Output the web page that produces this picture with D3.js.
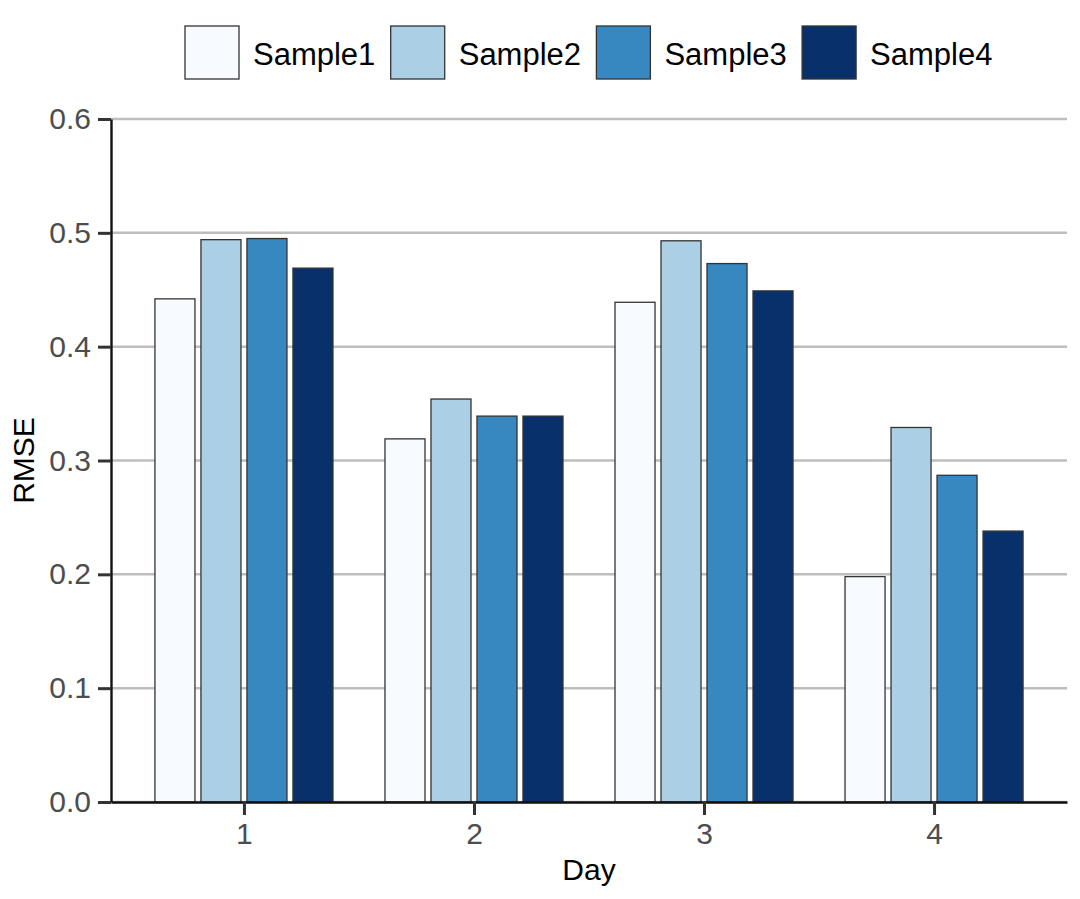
<!DOCTYPE html>
<html>
<head>
<meta charset="utf-8">
<script src="https://cdn.jsdelivr.net/npm/d3@7"></script>
<style>
  body { margin: 0; background: #fff; }
  text { font-family: "Liberation Sans", Arial, sans-serif; }
</style>
</head>
<body>
<script>
// Data
var days = ["1", "2", "3", "4"];
var samples = ["Sample1", "Sample2", "Sample3", "Sample4"];
var sample1 = [0.442, 0.319, 0.439, 0.198];
var sample2 = [0.494, 0.354, 0.493, 0.329];
var sample3 = [0.495, 0.339, 0.473, 0.287];
var sample4 = [0.469, 0.339, 0.449, 0.238];
var yTicks = [0, 0.1, 0.2, 0.3, 0.4, 0.5, 0.6];
var colors = ["#F7FBFF", "#ABCFE5", "#3787C0", "#08306B"];

window.onload = drawChart;

function drawChart(){

    var seriesValues = [sample1, sample2, sample3, sample4];

    var width = 1080,
        height = 899;

    // Plot frame
    var plotLeft = 111, plotRight = 1067, plotTop = 119, plotBottom = 802;

    var svg = d3.select("body")
        .append("svg")
        .attr("width", width)
        .attr("height", height);

    // Scales
    var x = d3.scalePoint()
        .domain(days)
        .range([plotLeft, plotRight])
        .padding(0.578);

    var xInner = d3.scaleBand()
        .domain(samples)
        .range([-92, 92])
        .paddingInner(0.13)
        .paddingOuter(0.065);

    var y = d3.scaleLinear()
        .domain([0, 0.6])
        .range([plotBottom, plotTop]);

    var color = d3.scaleOrdinal()
        .domain(samples)
        .range(colors);

    // Gridlines
    svg.selectAll(".grid")
        .data(yTicks)
        .enter()
        .append("line")
        .attr("class", "grid")
        .attr("x1", plotLeft)
        .attr("x2", plotRight)
        .attr("y1", function(d){ return y(d); })
        .attr("y2", function(d){ return y(d); })
        .attr("stroke", "#bebebe")
        .attr("stroke-width", 2.5);

    // Flatten data for bars
    var bars = [];
    days.forEach(function(day, i){
        samples.forEach(function(s, j){
            bars.push({ day: day, sample: s, value: seriesValues[j][i] });
        });
    });

    svg.selectAll(".bar")
        .data(bars)
        .enter()
        .append("rect")
        .attr("class", "bar")
        .attr("x", function(d){ return x(d.day) + xInner(d.sample); })
        .attr("width", xInner.bandwidth())
        .attr("y", function(d){ return y(d.value); })
        .attr("height", function(d){ return y(0) - y(d.value); })
        .attr("fill", function(d){ return color(d.sample); })
        .attr("stroke", "#333")
        .attr("stroke-width", 1.3);

    // Axes
    var yAxis = svg.append("g")
        .attr("transform", "translate(" + plotLeft + ",0)")
        .call(d3.axisLeft(y)
            .tickValues(yTicks)
            .tickFormat(d3.format(".1f"))
            .tickSize(13)
            .tickPadding(7)
            .tickSizeOuter(0));

    var xAxis = svg.append("g")
        .attr("transform", "translate(0," + plotBottom + ")")
        .call(d3.axisBottom(x)
            .tickSize(13)
            .tickPadding(8)
            .tickSizeOuter(0));

    [yAxis, xAxis].forEach(function(g){
        g.select(".domain").attr("stroke", "#111").attr("stroke-width", 2.4);
        g.selectAll(".tick line").attr("stroke", "#333").attr("stroke-width", 3);
        g.selectAll(".tick text")
            .attr("fill", "#4d4d4d")
            .style("font-size", "30px")
            .style("font-family", "'Liberation Sans', Arial, sans-serif");
    });

    // Axis titles
    svg.append("text")
        .attr("x", (plotLeft + plotRight) / 2)
        .attr("y", 880)
        .attr("text-anchor", "middle")
        .style("font-size", "30px")
        .attr("fill", "#000")
        .text("Day");

    svg.append("text")
        .attr("transform", "translate(34," + ((plotTop + plotBottom) / 2) + ") rotate(-90)")
        .attr("text-anchor", "middle")
        .style("font-size", "30px")
        .attr("fill", "#000")
        .text("RMSE");

    // Legend
    var legend = svg.selectAll(".legend")
        .data(samples)
        .enter()
        .append("g")
        .attr("class", "legend")
        .attr("transform", function(d, i){ return "translate(" + (185 + i * 205.7) + ",26)"; });

    legend.append("rect")
        .attr("width", 54)
        .attr("height", 53)
        .attr("fill", function(d){ return color(d); })
        .attr("stroke", "#333")
        .attr("stroke-width", 1.3);

    legend.append("text")
        .attr("x", 68)
        .attr("y", 39)
        .style("font-size", "31px")
        .attr("fill", "#000")
        .text(function(d){ return d; });
}
</script>
</body>
</html>
